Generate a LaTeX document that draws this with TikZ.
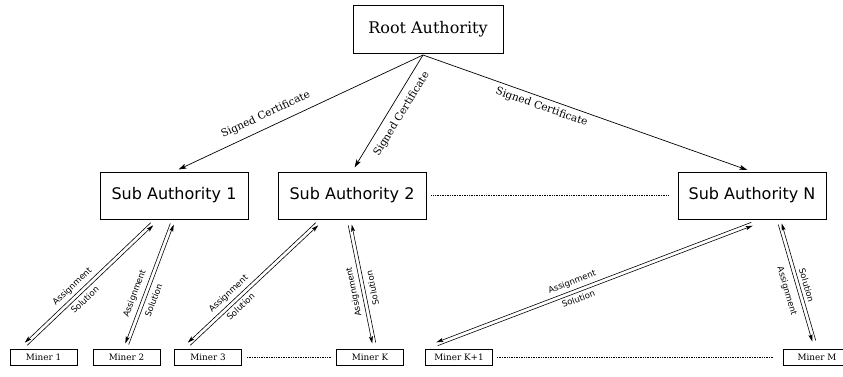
\documentclass[tikz,border=0pt]{standalone}
\usepackage{fontspec}
\setmainfont{DejaVu Serif}
\setsansfont{DejaVu Sans}
\usetikzlibrary{calc,arrows.meta}
\begin{document}
\begin{tikzpicture}[x=1pt,y=-1pt,
  box/.style={draw, line width=0.8pt, inner sep=0pt, fill=white},
  rootbox/.style={box, minimum width=150pt, minimum height=48pt, font=\fontsize{16}{18}\selectfont},
  subbox/.style={box, minimum width=148pt, minimum height=47pt, font=\sffamily\fontsize{16}{18}\selectfont},
  minerbox/.style={box, minimum width=67pt, minimum height=16pt, font=\fontsize{8.8}{10}\selectfont},
  cert/.style={-{Stealth[length=8pt,width=5pt,inset=2pt]}, line width=0.7pt, shorten >=5pt},
  arr/.style={-{Stealth[length=7pt,width=4pt,inset=1.5pt]}, line width=0.6pt},
  certlbl/.style={font=\fontsize{10.5}{12}\selectfont, sloped, inner sep=0pt},
  lblbase/.style={font=\sffamily\fontsize{8.5}{10}\selectfont, inner sep=0pt},
  lbl/.style={lblbase, sloped},
  dots/.style={densely dotted, line width=0.7pt},
]
\useasboundingbox (0,0) rectangle (843,376);

% nodes
\node[rootbox] (root) at (428,29) {Root Authority};
\node[subbox] (s1) at (174,195.5) {Sub Authority 1};
\node[subbox] (s2) at (352,195.5) {Sub Authority 2};
\node[subbox] (sn) at (752,195.5) {Sub Authority N};

\node[minerbox] (m1) at (43.5,357) {Miner 1};
\node[minerbox] (m2) at (126.5,357) {Miner 2};
\node[minerbox] (m3) at (208,357) {Miner 3};
\node[minerbox] (mk) at (370,357) {Miner K};
\node[minerbox] (mk1) at (459,357) {Miner K+1};
\node[minerbox] (mm) at (817,357) {Miner M};

% dotted links
\draw[dots, shorten <=5pt, shorten >=9pt] (s2.east) -- (sn.west);
\draw[dots, shorten <=5pt, shorten >=5pt] (m3.east) -- (mk.west);
\draw[dots, shorten <=4pt, shorten >=10pt] (mk1.east) -- (mm.west);

% signed certificates
\coordinate (rs) at (423,55);
\draw[cert] (rs) -- (s1.north) node[certlbl, pos=0.61, above=7pt] {Signed Certificate};
\draw[cert] (rs) -- (s2.north) node[certlbl, pos=0.45, below=7pt] {Signed Certificate};
\draw[cert] (rs) -- (sn.north) node[certlbl, pos=0.37, below=4pt] {Signed Certificate};

% end points of assignment/solution pairs
\coordinate (t1) at (152,224); \coordinate (b1) at (26,344);
\coordinate (t2) at (172,224); \coordinate (b2) at (127,344);
\coordinate (t3) at (317,224); \coordinate (b3) at (189,344);
\coordinate (t4) at (350,225); \coordinate (b4) at (374,343);
\coordinate (t5) at (752,224); \coordinate (b5) at (437,344);
\coordinate (t6) at (780,224); \coordinate (b6) at (814,341);

\foreach \i in {1,...,6}{
  \draw[arr] ($(t\i)!1.8pt!-90:(b\i)$) -- ($(b\i)!1.8pt!90:(t\i)$);
  \draw[arr] ($(b\i)!1.8pt!-90:(t\i)$) -- ($(t\i)!1.8pt!90:(b\i)$);
}

\path (b1) -- (t1) node[lbl, pos=0.42, above=5pt] {Assignment} node[lbl, pos=0.42, below=5pt] {Solution};
\path (b2) -- (t2) node[lbl, pos=0.39, above=6pt] {Assignment} node[lbl, pos=0.39, below=6pt] {Solution};
\path (b3) -- (t3) node[lbl, pos=0.36, above=5pt] {Assignment} node[lbl, pos=0.36, below=4.5pt] {Solution};
\coordinate (c4) at ($(b4)!0.45!(t4)$);
\node[lblbase, rotate=101.5, anchor=south] (a4) at ($(c4)!5pt!90:(t4)$) {Assignment};
\node[lblbase, rotate=101.5, anchor=north] (o4) at ($(c4)!6pt!-90:(t4)$) {Solution};
\path (b5) -- (t5) node[lbl, pos=0.44, above=5pt] {Assignment} node[lbl, pos=0.44, below=4.5pt] {Solution};
\path (b6) -- (t6) node[lbl, pos=0.455, below=8pt] {Assignment} node[lbl, pos=0.455, above=5pt] {Solution};
\end{tikzpicture}
\end{document}
